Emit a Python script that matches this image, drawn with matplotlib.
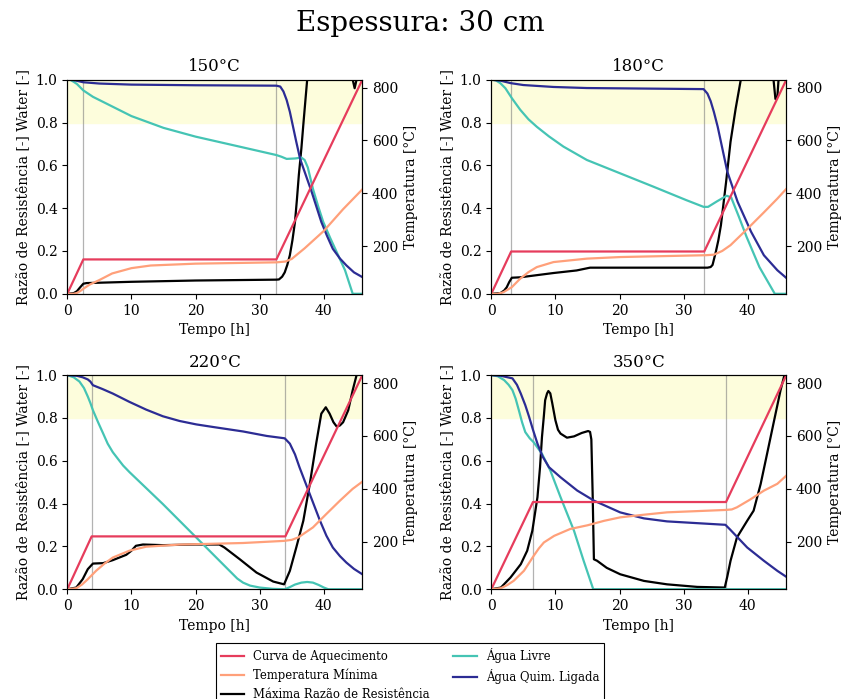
import matplotlib.pyplot as plt

plt.rcParams['font.family'] = 'DejaVu Serif'

casos = ['150°C', '180°C', '220°C', '350°C']
patamar = [150, 180, 220, 350]
inicio_patamar = [2.5, 3.1, 3.8, 6.5]
fim_patamar = [32.6, 33.2, 34.0, 36.6]
t_final = 46
temp_final = 830

# Agua livre
t_livre_150 = [0, 0.5, 1, 1.5, 2, 2.5, 3, 4, 5, 7, 10, 15, 20, 26.9, 32.6, 33.4, 34.2, 35.5, 36.5, 37.0, 37.5, 38.3, 39.1, 39.9, 41.0, 42.0, 43.3, 44.5, 46]
livre_150 = [1.0, 0.999, 0.99, 0.98, 0.965, 0.95, 0.94, 0.92, 0.905, 0.875, 0.83, 0.775, 0.734, 0.687, 0.648, 0.64, 0.63, 0.632, 0.636, 0.625, 0.59, 0.49, 0.41, 0.336, 0.26, 0.195, 0.11, 0.0, 0.0]
t_livre_180 = [0, 0.7, 1.4, 2.2, 3.2, 4.5, 5.8, 7.1, 9.0, 11.25, 14.9, 20.1, 25.3, 30.4, 33.1, 33.8, 35.2, 36.7, 37.4, 38.6, 39.8, 41.8, 44.2, 46]
livre_180 = [1.0, 0.997, 0.984, 0.96, 0.914, 0.86, 0.815, 0.78, 0.735, 0.6875, 0.625, 0.5625, 0.5, 0.4375, 0.406, 0.406, 0.432, 0.458, 0.45, 0.36, 0.266, 0.125, 0.0, 0.0]
t_livre_220 = [0, 1, 1.9, 2.6, 3.2, 3.6, 4.0, 4.8, 5.6, 6.3, 7.1, 8.0, 8.7, 9.7, 14.9, 20.1, 25.3, 26.5, 27.4, 28.5, 30.0, 32.0, 33.9, 34.7, 35.5, 36.5, 37.4, 38.3, 39.2, 40.0, 40.7, 46]
livre_220 = [1.0, 0.99, 0.97, 0.94, 0.9, 0.87, 0.836, 0.78, 0.727, 0.68, 0.64, 0.605, 0.578, 0.547, 0.398, 0.242, 0.086, 0.05, 0.031, 0.017, 0.008, 0.002, 0.0, 0.01, 0.022, 0.031, 0.034, 0.031, 0.02, 0.008, 0.0, 0.0]
t_livre_350 = [0, 1, 2.0, 2.7, 3.3, 3.8, 4.3, 4.8, 5.3, 6.0, 6.6, 7.9, 9.2, 10.8, 12.9, 14.4, 15.9, 46]
livre_350 = [1.0, 0.995, 0.977, 0.955, 0.93, 0.89, 0.836, 0.78, 0.734, 0.705, 0.687, 0.633, 0.555, 0.43, 0.273, 0.133, 0.0, 0.0]

# Agua quimicamente ligada
t_ligada_150 = [0, 1, 2.5, 5, 10, 20, 32.6, 33.2, 33.7, 34.2, 34.7, 35.2, 35.7, 36.3, 37.0, 38.1, 39.6, 40.5, 41.4, 42.5, 43.5, 44.7, 46]
ligada_150 = [1.0, 0.998, 0.988, 0.982, 0.977, 0.974, 0.972, 0.968, 0.945, 0.905, 0.85, 0.78, 0.71, 0.63, 0.57, 0.476, 0.336, 0.27, 0.21, 0.165, 0.133, 0.10, 0.078]
t_ligada_180 = [0, 1.5, 3.0, 5, 9.7, 14.9, 33.1, 33.7, 34.2, 34.7, 35.3, 35.8, 36.8, 38.4, 40.5, 42.5, 44.6, 46]
ligada_180 = [1.0, 0.995, 0.984, 0.975, 0.966, 0.961, 0.956, 0.935, 0.9, 0.85, 0.78, 0.71, 0.57, 0.43, 0.29, 0.18, 0.11, 0.074]
t_ligada_220 = [0, 1.5, 2.4, 3.2, 3.6, 4.0, 5.5, 7.1, 9.7, 12.3, 14.9, 17.5, 20.1, 22.7, 27.4, 31.1, 33.9, 34.7, 35.5, 36.2, 37.8, 39.4, 40.4, 41.4, 42.5, 43.5, 44.7, 46]
ligada_220 = [1.0, 0.997, 0.99, 0.98, 0.97, 0.953, 0.935, 0.914, 0.875, 0.839, 0.808, 0.786, 0.77, 0.758, 0.737, 0.716, 0.705, 0.68, 0.63, 0.57, 0.445, 0.32, 0.25, 0.195, 0.155, 0.125, 0.095, 0.07]
t_ligada_350 = [0, 1.5, 3.3, 4.0, 4.6, 5.3, 5.9, 6.5, 7.2, 8.0, 9.0, 10.8, 13.4, 16.0, 20.1, 23.8, 27.4, 36.5, 37.2, 37.9, 39.9, 42.5, 44.6, 46]
ligada_350 = [1.0, 0.997, 0.985, 0.955, 0.914, 0.86, 0.805, 0.745, 0.68, 0.62, 0.57, 0.523, 0.461, 0.414, 0.359, 0.331, 0.317, 0.301, 0.28, 0.258, 0.195, 0.133, 0.086, 0.058]

# Maxima razao de resistencia
t_razao_150 = [0, 1, 1.5, 2.0, 2.5, 3, 10, 20, 32.6, 33.0, 33.5, 33.9, 34.3, 34.7, 35.1, 35.5, 35.8, 36.1, 36.5, 36.8, 37.4, 38.5, 41, 44.0, 44.5, 44.8, 45.1, 45.5, 46]
razao_150 = [0.0, 0.003, 0.012, 0.03, 0.047, 0.05, 0.056, 0.062, 0.066, 0.067, 0.08, 0.10, 0.135, 0.18, 0.25, 0.336, 0.44, 0.555, 0.68, 0.79, 1.0, 1.4, 1.6, 1.1, 1.0, 0.96, 1.0, 1.2, 1.5]
t_razao_180 = [0, 1.4, 2.0, 2.4, 2.8, 3.2, 4.5, 9.7, 13.3, 15.4, 20.1, 33.7, 34.2, 34.5, 35.0, 35.4, 35.8, 36.2, 36.6, 37.3, 38.1, 38.9, 40, 43.5, 44.0, 44.3, 44.6, 44.9, 46]
razao_180 = [0.0, 0.003, 0.015, 0.03, 0.055, 0.075, 0.077, 0.097, 0.109, 0.122, 0.122, 0.122, 0.125, 0.135, 0.195, 0.25, 0.32, 0.42, 0.52, 0.71, 0.865, 1.0, 1.4, 1.2, 1.0, 0.91, 0.92, 1.05, 1.5]
t_razao_220 = [0, 1.4, 2.4, 3.2, 4.0, 5.6, 7.1, 9.2, 10.0, 10.7, 11.8, 14.9, 20.1, 23.7, 24.5, 26.9, 29.5, 32.1, 33.8, 34.7, 35.7, 36.8, 37.8, 38.8, 39.6, 40.3, 40.9, 41.5, 42.0, 42.5, 43.0, 43.8, 44.5, 45.1, 46]
razao_220 = [0.0, 0.008, 0.047, 0.094, 0.12, 0.122, 0.136, 0.161, 0.18, 0.203, 0.209, 0.206, 0.209, 0.209, 0.195, 0.14, 0.078, 0.036, 0.023, 0.086, 0.195, 0.32, 0.49, 0.68, 0.82, 0.85, 0.82, 0.78, 0.76, 0.765, 0.78, 0.836, 0.93, 1.0, 1.1]
t_razao_350 = [0, 1.5, 3.0, 4.6, 5.6, 6.4, 7.2, 7.6, 7.9, 8.2, 8.4, 8.7, 8.9, 9.2, 9.5, 10.0, 10.4, 10.8, 11.8, 12.9, 14.1, 15.1, 15.4, 15.6, 15.8, 16.0, 16.5, 18.0, 20.1, 23.8, 27.4, 32.1, 36.4, 36.8, 37.3, 38.3, 39.9, 40.9, 42.0, 43.0, 44.1, 45.1, 45.7, 46]
razao_350 = [0.0, 0.008, 0.055, 0.117, 0.18, 0.273, 0.43, 0.57, 0.71, 0.81, 0.883, 0.915, 0.926, 0.915, 0.87, 0.789, 0.745, 0.727, 0.708, 0.714, 0.73, 0.739, 0.735, 0.70, 0.45, 0.14, 0.133, 0.10, 0.07, 0.039, 0.023, 0.011, 0.008, 0.06, 0.133, 0.242, 0.32, 0.367, 0.492, 0.633, 0.789, 0.93, 1.0, 1.05]

# Temperatura minima [°C]
t_tmin_150 = [0, 1, 1.5, 2, 2.5, 3.5, 5, 7, 10, 13, 20, 32.6, 34.0, 35.0, 37, 40, 43, 46]
tmin_150 = [20, 20, 23, 30, 39, 55, 72, 97, 117, 127, 134, 139, 142, 152, 192, 258, 340, 415]
t_tmin_180 = [0, 1.0, 1.9, 3.2, 4.5, 5.8, 7.1, 9.7, 14.9, 20.1, 33.5, 34.7, 36.0, 37.3, 39.9, 42.5, 44.6, 46]
tmin_180 = [20, 20, 26, 45, 77, 102, 121, 140, 153, 159, 166, 168, 182, 204, 265, 328, 380, 417]
t_tmin_220 = [0, 1.4, 2.3, 3.2, 4.5, 5.8, 7.1, 9.7, 12.3, 17.5, 27.4, 33.8, 35.0, 36.0, 38.3, 40.4, 42.5, 44.5, 46]
tmin_220 = [20, 24, 38, 58, 90, 117, 140, 166, 181, 189, 195, 203, 207, 216, 254, 305, 355, 400, 427]
t_tmin_350 = [0, 1.5, 2.5, 3.5, 5.1, 6.6, 7.4, 8.2, 9.8, 12.3, 15.0, 17.6, 20.1, 23.8, 27.4, 36.5, 37.5, 38.3, 40.4, 42.5, 44.6, 46]
tmin_350 = [20, 24, 36, 52, 90, 146, 174, 197, 222, 248, 262, 279, 292, 302, 311, 320, 322, 330, 360, 393, 419, 450]

t_livre = [t_livre_150, t_livre_180, t_livre_220, t_livre_350]
livre = [livre_150, livre_180, livre_220, livre_350]
t_ligada = [t_ligada_150, t_ligada_180, t_ligada_220, t_ligada_350]
ligada = [ligada_150, ligada_180, ligada_220, ligada_350]
t_razao = [t_razao_150, t_razao_180, t_razao_220, t_razao_350]
razao = [razao_150, razao_180, razao_220, razao_350]
t_tmin = [t_tmin_150, t_tmin_180, t_tmin_220, t_tmin_350]
tmin = [tmin_150, tmin_180, tmin_220, tmin_350]

cor_aquec = '#e63c5c'
cor_tmin = '#ffa07a'
cor_razao = 'black'
cor_livre = '#45c4b4'
cor_ligada = '#2c2c94'

fig, axes = plt.subplots(2, 2, figsize=(8.41, 6.99), dpi=100)
plt.subplots_adjust(left=0.08, right=0.935, top=0.886, bottom=0.157, wspace=0.437, hspace=0.38)
fig.suptitle('Espessura: 30 cm', fontsize=20, y=0.985)

for i, ax in enumerate(axes.flat):
    ax2 = ax.twinx()
    ax.axhspan(0.8, 1.0, color='#fdfddc', zorder=0)
    ax.axvline(inicio_patamar[i], color='gray', lw=0.9, alpha=0.6)
    ax.axvline(fim_patamar[i], color='gray', lw=0.9, alpha=0.6)

    t_aquec = [0, inicio_patamar[i], fim_patamar[i], t_final]
    aquec = [20, patamar[i], patamar[i], temp_final]
    l1, = ax2.plot(t_aquec, aquec, color=cor_aquec, lw=1.6, label='Curva de Aquecimento')
    l2, = ax2.plot(t_tmin[i], tmin[i], color=cor_tmin, lw=1.6, label='Temperatura Mínima')
    l3, = ax.plot(t_razao[i], razao[i], color=cor_razao, lw=1.6, label='Máxima Razão de Resistência')
    l4, = ax.plot(t_livre[i], livre[i], color=cor_livre, lw=1.6, label='Água Livre')
    l5, = ax.plot(t_ligada[i], ligada[i], color=cor_ligada, lw=1.6, label='Água Quim. Ligada')

    ax.set_xlim(0, 46)
    ax.set_ylim(0, 1)
    ax2.set_ylim(20, temp_final)
    ax2.set_yticks([200, 400, 600, 800])
    ax.set_title(casos[i], fontsize=12)
    ax.set_xlabel('Tempo [h]', fontsize=10)
    ax.set_ylabel('Razão de Resistência [-] Water [-]', fontsize=10)
    ax2.set_ylabel('Temperatura [°C]', fontsize=10)

leg = fig.legend(handles=[l1, l2, l3, l4, l5], loc='upper center', bbox_to_anchor=(0.4875, 0.088),
                 ncol=2, fontsize=8.4, fancybox=False, edgecolor='black', framealpha=1)
leg.get_frame().set_linewidth(0.8)

plt.savefig('out.png', dpi=100)
